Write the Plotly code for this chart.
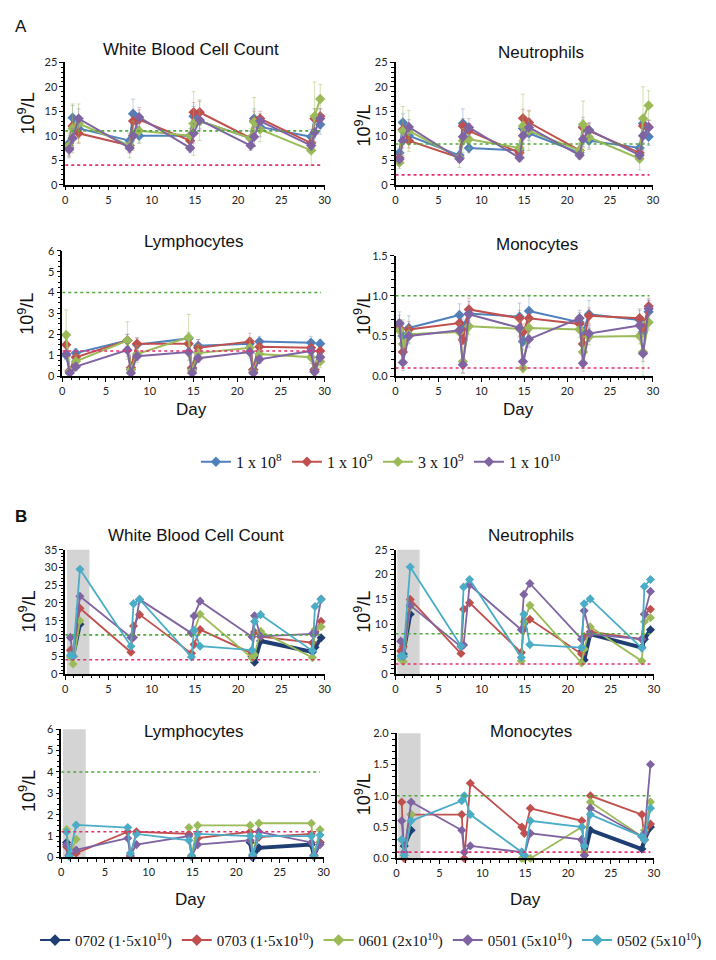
import plotly.graph_objects as go

W, H = 716, 960

# ---------------- DATA ----------------
days_a = [0.45, 0.85, 1.55, 7.45, 7.85, 8.55, 14.45, 14.85, 15.55, 21.45, 21.85, 22.55, 28.45, 28.85, 29.5]
days_b = [0.6, 0.9, 1.7, 7.6, 7.9, 8.6, 14.6, 14.9, 15.6, 21.6, 21.9, 22.6, 28.6, 28.9, 29.6]

names_a = ["1 x 10<sup>8</sup>", "1 x 10<sup>9</sup>", "3 x 10<sup>9</sup>", "1 x 10<sup>10</sup>"]
names_b = ["0702 (1·5x10<sup>10</sup>)", "0703 (1·5x10<sup>10</sup>)", "0601 (2x10<sup>10</sup>)",
           "0501 (5x10<sup>10</sup>)", "0502 (5x10<sup>10</sup>)"]

# Panel A - White Blood Cell Count (mean, error)
wbc_a_1e8 = [8.5, 13.7, 11.5, 9.0, 14.5, 10.0, 10.0, 14.0, 13.0, 9.5, 13.5, 11.8, 9.8, 13.5, 12.3]
wbc_a_1e9 = [7.5, 12.0, 10.5, 8.0, 13.0, 13.3, 9.0, 14.8, 14.8, 9.5, 13.0, 13.5, 8.5, 13.5, 14.0]
wbc_a_3e9 = [8.0, 11.5, 12.5, 8.0, 10.0, 11.0, 10.0, 12.5, 13.0, 9.5, 12.8, 11.3, 7.0, 14.0, 17.5]
wbc_a_1e10 = [7.2, 9.5, 13.5, 7.5, 10.0, 13.8, 7.5, 10.5, 13.2, 8.0, 9.8, 13.0, 8.0, 10.7, 13.5]
wbc_a_1e8_err = [1.5, 2.5, 2.0, 1.5, 3.0, 1.5, 1.5, 2.0, 1.5, 1.5, 2.0, 2.0, 1.5, 2.0, 2.0]
wbc_a_1e9_err = [1.5, 2.0, 2.0, 1.5, 2.0, 2.0, 1.5, 2.0, 2.5, 1.5, 2.0, 1.5, 1.5, 2.0, 1.5]
wbc_a_3e9_err = [2.5, 5.0, 4.0, 2.5, 3.0, 2.5, 2.5, 6.5, 4.0, 2.0, 5.0, 2.5, 3.0, 7.0, 3.0]
wbc_a_1e10_err = [1.5, 2.0, 2.0, 1.0, 2.0, 2.0, 1.0, 2.0, 2.0, 1.0, 2.0, 1.5, 1.0, 2.0, 2.0]

# Panel A - Neutrophils
neu_a_1e8 = [6.5, 12.7, 10.0, 6.0, 12.5, 7.5, 7.0, 11.5, 10.5, 6.5, 11.8, 9.0, 7.5, 12.5, 9.8]
neu_a_1e9 = [5.5, 11.3, 9.0, 5.5, 12.0, 11.0, 6.5, 13.6, 12.7, 7.0, 11.7, 11.0, 6.5, 12.0, 11.8]
neu_a_3e9 = [4.5, 11.0, 11.0, 5.5, 9.0, 9.3, 7.5, 12.0, 11.0, 7.0, 12.3, 9.7, 5.3, 13.5, 16.2]
neu_a_1e10 = [5.2, 9.0, 11.8, 5.3, 9.8, 11.7, 5.5, 10.0, 11.7, 6.0, 9.3, 11.2, 6.0, 10.0, 11.7]
neu_a_1e8_err = [1.0, 1.8, 1.5, 1.0, 3.0, 1.0, 1.0, 1.8, 1.5, 1.0, 2.0, 1.5, 1.0, 1.5, 1.8]
neu_a_1e9_err = [1.0, 1.5, 1.5, 1.0, 1.5, 1.5, 1.0, 1.8, 2.5, 1.0, 1.5, 1.5, 1.0, 1.2, 1.3]
neu_a_3e9_err = [1.2, 5.0, 4.2, 2.0, 2.5, 2.0, 1.5, 6.5, 4.0, 1.5, 4.8, 2.5, 2.3, 6.5, 3.0]
neu_a_1e10_err = [1.0, 1.5, 1.5, 0.8, 1.5, 1.8, 0.8, 1.5, 1.8, 0.8, 1.5, 1.5, 0.8, 1.5, 1.5]

# Panel A - Lymphocytes
lym_a_1e8 = [1.0, 0.2, 1.1, 1.7, 0.3, 1.5, 1.8, 0.35, 1.45, 1.55, 0.3, 1.65, 1.6, 0.3, 1.55]
lym_a_1e9 = [1.5, 0.25, 0.9, 1.7, 0.4, 1.55, 1.55, 0.4, 1.35, 1.65, 0.3, 1.4, 1.35, 0.3, 1.2]
lym_a_3e9 = [1.97, 0.2, 0.7, 1.7, 0.3, 1.05, 1.85, 0.25, 1.1, 1.35, 0.2, 1.05, 0.9, 0.2, 0.7]
lym_a_1e10 = [1.05, 0.15, 0.45, 1.25, 0.15, 0.95, 1.15, 0.15, 0.85, 1.15, 0.15, 0.8, 1.2, 0.2, 0.9]
lym_a_1e8_err = [0.2, 0.1, 0.2, 0.3, 0.1, 0.3, 0.3, 0.1, 0.3, 0.3, 0.1, 0.25, 0.3, 0.1, 0.2]
lym_a_1e9_err = [0.3, 0.1, 0.2, 0.3, 0.1, 0.3, 0.3, 0.1, 0.4, 0.4, 0.1, 0.3, 0.3, 0.1, 0.2]
lym_a_3e9_err = [1.2, 0.2, 0.3, 0.9, 0.2, 0.4, 1.1, 0.2, 0.4, 0.5, 0.2, 0.4, 0.3, 0.2, 0.3]
lym_a_1e10_err = [0.2, 0.1, 0.2, 0.3, 0.1, 0.2, 0.2, 0.1, 0.2, 0.2, 0.1, 0.2, 0.2, 0.1, 0.2]

# Panel A - Monocytes
mon_a_1e8 = [0.65, 0.5, 0.6, 0.76, 0.62, 0.78, 0.74, 0.43, 0.81, 0.67, 0.55, 0.77, 0.7, 0.55, 0.8]
mon_a_1e9 = [0.6, 0.3, 0.58, 0.66, 0.45, 0.83, 0.72, 0.55, 0.72, 0.65, 0.4, 0.75, 0.72, 0.6, 0.87]
mon_a_3e9 = [0.57, 0.4, 0.52, 0.55, 0.18, 0.62, 0.59, 0.1, 0.6, 0.58, 0.3, 0.49, 0.5, 0.3, 0.67]
mon_a_1e10 = [0.66, 0.17, 0.5, 0.57, 0.14, 0.77, 0.6, 0.18, 0.46, 0.72, 0.16, 0.53, 0.63, 0.28, 0.84]
mon_a_1e8_err = [0.15, 0.1, 0.15, 0.14, 0.15, 0.15, 0.17, 0.1, 0.2, 0.12, 0.1, 0.17, 0.14, 0.1, 0.15]
mon_a_1e9_err = [0.1, 0.1, 0.1, 0.1, 0.1, 0.14, 0.1, 0.1, 0.1, 0.1, 0.1, 0.1, 0.1, 0.1, 0.1]
mon_a_3e9_err = [0.1, 0.3, 0.1, 0.1, 0.15, 0.1, 0.1, 0.05, 0.1, 0.1, 0.2, 0.1, 0.1, 0.3, 0.1]
mon_a_1e10_err = [0.1, 0.1, 0.1, 0.1, 0.1, 0.1, 0.1, 0.1, 0.1, 0.1, 0.1, 0.1, 0.1, 0.1, 0.1]

# Panel B - White Blood Cell Count (individual animals)
wbc_b_0702 = [None, 5.0, 14.0, None, None, None, None, None, None, 5.0, 3.3, 9.3, 6.2, 7.5, 10.2]
wbc_b_0703 = [6.7, 5.0, 18.5, 6.1, 13.5, 16.7, 5.8, 8.3, 12.5, 5.8, 11.8, 10.5, 8.8, 12.0, 14.8]
wbc_b_0601 = [4.8, 2.8, 15.0, None, None, None, 11.5, 12.0, 16.8, 4.5, 5.4, 12.0, 4.6, 12.5, 13.3]
wbc_b_0501 = [10.3, 5.0, 21.9, 10.3, 10.3, 21.0, 11.5, 16.3, 20.5, 10.5, 16.4, 10.6, 11.3, 11.5, 21.1]
wbc_b_0502 = [5.3, 5.0, 29.5, 7.8, 19.8, 21.0, 4.8, 12.3, 7.8, 6.7, 14.8, 16.7, 6.5, 19.0, 21.0]

# Panel B - Neutrophils
neu_b_0702 = [None, 4.0, 12.0, None, None, None, None, None, None, 4.5, 2.8, 8.0, 5.3, 7.0, 8.9]
neu_b_0703 = [4.6, 5.5, 15.0, 4.1, 13.0, 14.3, 4.3, 9.0, 11.0, 4.0, 7.5, 8.5, 7.0, 12.0, 13.0]
neu_b_0601 = [3.0, 2.5, 13.5, None, None, None, 2.6, 10.5, 13.8, 2.2, 5.0, 9.5, 2.6, 10.5, 11.3]
neu_b_0501 = [6.6, 3.5, 13.8, 5.5, 5.8, 17.9, 8.9, 16.0, 18.2, 7.0, 12.7, 8.0, 7.0, 12.0, 16.6]
neu_b_0502 = [3.6, 3.6, 21.5, 5.6, 17.5, 19.0, 3.3, 12.0, 5.9, 5.3, 14.1, 15.1, 5.2, 17.6, 19.0]

# Panel B - Lymphocytes
lym_b_0702 = [0.7, 0.1, None, None, None, None, None, None, None, 0.7, 0.0, 0.45, 0.6, 0.1, 0.7]
lym_b_0703 = [0.5, 0.1, 0.2, 1.2, 0.05, 1.2, 1.1, 0.05, 0.9, 1.2, 0.1, 0.95, 1.1, 0.05, 0.7]
lym_b_0601 = [1.3, 0.1, 0.85, None, None, None, 1.4, 0.1, 1.5, 1.5, 0.1, 1.6, 1.6, 0.1, 1.3]
lym_b_0501 = [0.6, 0.1, 0.35, 0.9, 0.1, 0.6, 1.0, 0.05, 0.6, 0.8, 0.05, 1.2, 0.7, 0.1, 0.6]
lym_b_0502 = [1.19, 0.05, 1.52, 1.4, 0.2, 1.1, 0.8, 0.05, 1.1, 1.0, 0.15, 1.0, 1.0, 0.05, 1.05]

# Panel B - Monocytes
mon_b_0702 = [None, 0.2, 0.45, None, None, None, None, None, None, 0.3, 0.05, 0.45, 0.15, 0.3, 0.5]
mon_b_0703 = [0.9, 0.0, 0.7, 0.7, 0.0, 1.2, 0.5, 0.4, 0.8, 0.6, 0.1, 1.0, 0.7, 0.3, 0.55]
mon_b_0601 = [0.3, 0.05, 0.7, None, None, None, 0.0, 0.0, 0.0, 0.5, 0.1, 0.9, 0.35, 0.45, 0.9]
mon_b_0501 = [0.6, 0.1, 0.9, 0.45, 0.1, 0.2, 0.1, 0.05, 0.4, 0.3, 0.05, 0.8, 0.35, 0.4, 1.5]
mon_b_0502 = [0.3, 0.05, 0.6, 0.92, 1.0, 0.7, 0.1, 0.05, 0.6, 0.5, 0.2, 0.7, 0.35, 0.3, 0.8]

# normal-range reference lines (upper, lower) per subplot
ref_upper = [11, 8.3, 4.0, 1.0, 11, 8.1, 4.0, 1.0]
ref_lower = [4, 2.0, 1.2, 0.1, 4, 2.0, 1.2, 0.1]

titles = ["White Blood Cell Count", "Neutrophils", "Lymphocytes", "Monocytes"] * 2
y_ranges = [[0, 25], [0, 25], [0, 6], [0, 1.5], [0, 35], [0, 25], [0, 6], [0, 2]]
y_dticks = [5, 5, 1, 0.5, 5, 5, 1, 0.5]
y_minor = [1, 1, 0.25, 0.1, 1, 1, 0.25, 0.1]
x_ticks = [0, 5, 10, 15, 20, 25, 30]

# ---------------- STYLE / LAYOUT ----------------
cols_a = ["#4F81BD", "#C0504D", "#9BBB59", "#8064A2"]
errc_a = ["rgba(79,129,189,0.35)", "rgba(192,80,77,0.35)", "rgba(155,187,89,0.45)", "rgba(128,100,162,0.35)"]
cols_b = ["#1F3E74", "#C0504D", "#9BBB59", "#8064A2", "#4BACC6"]

# pixel boxes: x0, x1, ytop, ybottom
boxes = [(55, 318, 48, 172), (390, 651, 48, 172), (52, 318, 239, 366), (390, 651, 244, 366),
         (55, 318, 542, 668), (390, 652, 542, 668), (51, 317, 724, 854), (391, 652, 728, 855)]

A_sets = [
    ([wbc_a_1e8, wbc_a_1e9, wbc_a_3e9, wbc_a_1e10], [wbc_a_1e8_err, wbc_a_1e9_err, wbc_a_3e9_err, wbc_a_1e10_err]),
    ([neu_a_1e8, neu_a_1e9, neu_a_3e9, neu_a_1e10], [neu_a_1e8_err, neu_a_1e9_err, neu_a_3e9_err, neu_a_1e10_err]),
    ([lym_a_1e8, lym_a_1e9, lym_a_3e9, lym_a_1e10], [lym_a_1e8_err, lym_a_1e9_err, lym_a_3e9_err, lym_a_1e10_err]),
    ([mon_a_1e8, mon_a_1e9, mon_a_3e9, mon_a_1e10], [mon_a_1e8_err, mon_a_1e9_err, mon_a_3e9_err, mon_a_1e10_err]),
]
B_sets = [
    [wbc_b_0702, wbc_b_0703, wbc_b_0601, wbc_b_0501, wbc_b_0502],
    [neu_b_0702, neu_b_0703, neu_b_0601, neu_b_0501, neu_b_0502],
    [lym_b_0702, lym_b_0703, lym_b_0601, lym_b_0501, lym_b_0502],
    [mon_b_0702, mon_b_0703, mon_b_0601, mon_b_0501, mon_b_0502],
]

fig = go.Figure()


def axn(k, letter):
    return letter if k == 1 else f"{letter}{k}"


# Panel A traces
for i, (series, errs) in enumerate(A_sets):
    k = i + 1
    for j in range(4):
        fig.add_trace(go.Scatter(
            x=days_a, y=series[j], mode="lines+markers", name=names_a[j],
            xaxis=axn(k, "x"), yaxis=axn(k, "y"),
            line=dict(color=cols_a[j], width=2),
            marker=dict(symbol="diamond", size=8, color=cols_a[j]),
            error_y=dict(type="data", array=errs[j], visible=True, color=errc_a[j], thickness=1, width=2),
            showlegend=(k == 1), legend="legend", cliponaxis=False,
        ))

# Panel B traces
for i, series in enumerate(B_sets):
    k = i + 5
    for j in range(5):
        fig.add_trace(go.Scatter(
            x=days_b, y=series[j], mode="lines+markers", name=names_b[j],
            xaxis=axn(k, "x"), yaxis=axn(k, "y"),
            line=dict(color=cols_b[j], width=4 if j == 0 else 1.8),
            marker=dict(symbol="diamond", size=7, color=cols_b[j]),
            showlegend=False, cliponaxis=False,
        ))

# legend entries for panel B (uniform line width in the key)
for j in range(5):
    fig.add_trace(go.Scatter(
        x=[None], y=[None], mode="lines+markers", name=names_b[j],
        xaxis="x5", yaxis="y5",
        line=dict(color=cols_b[j], width=2),
        marker=dict(symbol="diamond", size=9, color=cols_b[j]),
        showlegend=True, legend="legend2",
    ))

layout = dict(
    width=W, height=H, margin=dict(l=0, r=0, t=0, b=0),
    paper_bgcolor="white", plot_bgcolor="white",
    font=dict(family="Liberation Sans, Arial", color="#111"),
    legend=dict(orientation="h", x=0.524, xanchor="center", y=1 - 453 / H, yanchor="middle",
                font=dict(family="Liberation Serif, Times New Roman", size=16, color="#111"),
                bgcolor="rgba(0,0,0,0)", itemwidth=30, tracegroupgap=0),
    legend2=dict(orientation="h", x=0.51, xanchor="center", y=1 - 938 / H, yanchor="middle",
                 font=dict(family="Liberation Serif, Times New Roman", size=15, color="#111"),
                 bgcolor="rgba(0,0,0,0)", itemwidth=30, tracegroupgap=0),
)

shapes = []
annotations = []
for k in range(1, 9):
    x0, x1, yt, yb = boxes[k - 1]
    xa = "xaxis" if k == 1 else f"xaxis{k}"
    ya = "yaxis" if k == 1 else f"yaxis{k}"
    common = dict(showline=True, linecolor="black", linewidth=1.5, ticks="outside", tickcolor="black",
                  ticklen=4, tickwidth=1.2, showgrid=False, zeroline=False,
                  tickfont=dict(family="Lato, Open Sans", size=11, color="#222"))
    layout[xa] = dict(domain=[x0 / W, x1 / W], anchor=axn(k, "y"), range=[0, 30],
                      tickvals=x_ticks, minor=dict(ticks="outside", dtick=1, ticklen=2.5, tickcolor="black"),
                      **common)
    layout[ya] = dict(domain=[1 - yb / H, 1 - yt / H], anchor=axn(k, "x"), range=y_ranges[k - 1],
                      dtick=y_dticks[k - 1], tickformat=".1f" if y_dticks[k - 1] < 1 else "d",
                      minor=dict(ticks="outside", dtick=y_minor[k - 1], ticklen=2.5, tickcolor="black"),
                      **common)
    # shaded first-week region in panel B
    if k >= 5:
        shapes.append(dict(type="rect", xref=axn(k, "x"), yref=axn(k, "y") + " domain",
                           x0=0.2, x1=2.8, y0=0, y1=1, fillcolor="#D4D4D4", line=dict(width=0), layer="below"))
    shapes.append(dict(type="line", xref=axn(k, "x"), yref=axn(k, "y"), x0=0, x1=29.6,
                       y0=ref_upper[k - 1], y1=ref_upper[k - 1], line=dict(color="#4FA83D", width=1.6, dash="dot")))
    shapes.append(dict(type="line", xref=axn(k, "x"), yref=axn(k, "y"), x0=0, x1=29.6,
                       y0=ref_lower[k - 1], y1=ref_lower[k - 1], line=dict(color="#E2306F", width=1.6, dash="dot")))

title_pos = [(183, 35), (538, 38), (186, 230), (533, 233), (188, 528), (527, 528), (186, 726), (527, 726)]
for k in range(8):
    tx, ty = title_pos[k]
    annotations.append(dict(text=titles[k], x=tx / W, y=1 - ty / H, xref="paper", yref="paper",
                            showarrow=False, xanchor="center", yanchor="middle",
                            font=dict(family="Liberation Sans, Arial", size=17, color="#111")))

ylab_pos = [(16, 100), (357, 112), (16, 303), (357, 303), (17, 605), (357, 605), (17, 787), (357, 790)]
for (lx, ly) in ylab_pos:
    annotations.append(dict(text="10<sup>9</sup>/L", x=lx / W, y=1 - ly / H, xref="paper", yref="paper",
                            showarrow=False, textangle=-90, xanchor="center", yanchor="middle",
                            font=dict(family="Liberation Sans, Arial", size=18, color="#111")))

for (dx, dy) in [(183, 400), (515, 400), (182, 897), (522, 897)]:
    annotations.append(dict(text="Day", x=dx / W, y=1 - dy / H, xref="paper", yref="paper",
                            showarrow=False, xanchor="center", yanchor="middle",
                            font=dict(family="Liberation Sans, Arial", size=17, color="#111")))

annotations.append(dict(text="A", x=10 / W, y=1 - 12 / H, xref="paper", yref="paper", showarrow=False,
                        xanchor="center", yanchor="middle", font=dict(family="Liberation Sans, Arial", size=17, color="#111")))
annotations.append(dict(text="<b>B</b>", x=10 / W, y=1 - 508 / H, xref="paper", yref="paper", showarrow=False,
                        xanchor="center", yanchor="middle", font=dict(family="Liberation Sans, Arial", size=17, color="#111")))

layout["shapes"] = shapes
layout["annotations"] = annotations
fig.update_layout(**layout)

fig.write_html("out.html")
